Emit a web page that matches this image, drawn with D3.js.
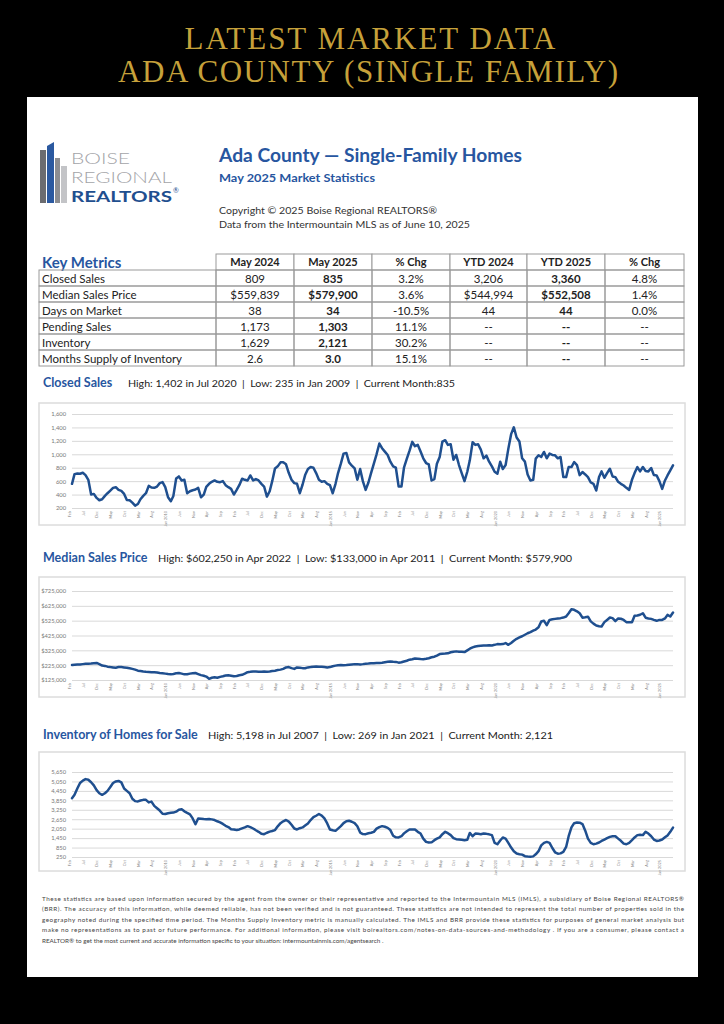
<!DOCTYPE html>
<html>
<head>
<meta charset="utf-8">
<script src="https://cdn.jsdelivr.net/npm/d3@7"></script>
<style>
  body { margin: 0; background: #000; }
  svg { display: block; font-family: Lato, "Open Sans", sans-serif; }
</style>
</head>
<body>
<script>
// months run Feb 2007 .. May 2025, one value per month
const startMonth = new Date(2007, 1, 1)

const closedSales = [
  560,705,715,710,725,690,620,400,410,350,315,
  330,380,420,460,500,510,470,455,410,320,315,280,
  235,260,330,380,420,530,505,500,520,570,585,510,
  360,300,380,640,670,610,620,420,450,465,475,500,
  360,400,515,560,590,610,590,585,600,540,510,485,
  400,470,540,635,620,610,685,610,630,610,560,520,
  370,450,600,790,820,880,880,850,720,620,570,560,
  420,550,690,780,810,800,720,620,590,600,560,540,
  420,560,720,860,1010,1020,880,830,790,620,780,600,
  470,580,720,860,1000,1160,1090,1040,990,890,820,800,
  520,520,800,930,1050,1185,1120,1140,1040,940,870,850,
  610,630,860,960,1190,1210,1140,1150,920,990,840,720,
  600,740,910,1180,1140,1150,1070,940,980,890,820,740,
  710,890,780,840,1080,1300,1402,1250,1190,940,890,700,
  610,620,935,985,960,1035,940,1010,990,985,940,960,
  660,660,810,810,885,840,690,735,700,660,580,560,
  460,660,745,650,720,785,670,660,590,560,535,500,
  470,620,720,810,745,810,750,745,795,690,685,600,
  485,610,685,760,835
]

// median sales price, in $ thousands
const medianPriceK = [
  226,228,230,230,232,234,235,236,238,240,232,
  222,220,215,212,210,208,212,212,210,208,204,200,
  195,188,185,182,180,179,178,177,175,172,170,168,
  165,163,166,170,172,168,163,164,168,170,172,165,
  158,154,148,133,140,143,140,146,150,155,157,154,
  150,152,157,160,168,178,180,183,182,181,180,182,
  180,182,185,188,192,195,200,210,212,205,200,210,
  208,205,204,210,212,215,216,214,215,213,210,212,
  218,222,225,226,225,226,228,230,232,232,230,232,
  235,236,238,238,239,240,242,245,248,250,248,247,
  242,245,250,255,262,265,270,268,266,265,268,272,
  278,282,290,300,302,303,305,312,316,318,316,315,
  313,325,336,345,351,354,356,358,358,360,358,362,
  367,366,367,374,362,375,390,403,412,420,430,440,
  448,458,465,480,519,524,495,530,534,537,540,542,
  546,553,575,602.25,598,588,575,545,548,552,520,505,
  492,488,486,515,530,546,542,522,540,538,530,515,
  515,514,558,560,565,575,545,540,537,530,524,530,
  530,540,564,553,579.9
]

const inventory = [
  3985,4200,4600,4950,5100,5198,5160,5000,4800,4500,4300,
  4200,4300,4450,4700,4950,5050,5080,4990,4600,4450,4300,3950,
  3800,3780,3840,3880,3880,3720,3770,3500,3350,3200,3000,2980,
  3030,3060,3070,3130,3250,3280,3150,3050,2960,2700,2330,2700,
  2680,2660,2650,2660,2640,2600,2520,2450,2350,2230,2150,2020,
  2000,1960,2000,2070,2130,2210,2150,2060,1950,1850,1720,1700,
  1790,1860,1900,1960,2200,2400,2520,2600,2500,2300,2060,2000,
  2080,2130,2250,2380,2600,2780,2870,2980,2880,2700,2380,2000,
  1950,1910,2050,2210,2400,2520,2550,2490,2400,2200,1800,1710,
  1700,1760,1790,1850,2050,2150,2210,2170,2100,1960,1600,1500,
  1490,1570,1750,1890,2000,2000,2000,1850,1740,1420,1210,1170,
  1180,1320,1420,1500,1700,1850,1760,1640,1450,1380,1360,1340,
  1320,1340,1780,1570,1740,1720,1700,1740,1720,1690,1640,1150,
  1060,1300,1490,1420,1150,850,610,470,430,400,300,280,
  269,290,420,620,990,1150,1210,1150,820,550,460,480,
  570,890,1570,2130,2400,2440,2430,2340,1920,1420,1150,1060,
  1100,1170,1270,1360,1450,1530,1570,1570,1420,1280,1100,1060,
  1150,1320,1490,1640,1660,1640,1850,1740,1570,1360,1270,1300,
  1360,1500,1620,1850,2121
]

const closedTicks = [200,400,600,800,1000,1200,1400,1600]
const priceTicks = [125000,225000,325000,425000,525000,625000,725000]
const inventoryTicks = [250,850,1450,2050,2650,3250,3850,4450,5050,5650]

// key metrics table
const metricNames = ['Closed Sales','Median Sales Price','Days on Market','Pending Sales','Inventory','Months Supply of Inventory']
const tableHeads = ['May 2024','May 2025','% Chg','YTD 2024','YTD 2025','% Chg']
const may2024 = ['809','$559,839','38','1,173','1,629','2.6']
const may2025 = ['835','$579,900','34','1,303','2,121','3.0']
const chgMonth = ['3.2%','3.6%','-10.5%','11.1%','30.2%','15.1%']
const ytd2024 = ['3,206','$544,994','44','--','--','--']
const ytd2025 = ['3,360','$552,508','44','--','--','--']
const chgYtd = ['4.8%','1.4%','0.0%','--','--','--']

const footerLines = [
  'These statistics are based upon information secured by the agent from the owner or their representative and reported to the Intermountain MLS (IMLS), a subsidiary of Boise Regional REALTORS®',
  '(BRR). The accuracy of this information, while deemed reliable, has not been verified and is not guaranteed. These statistics are not intended to represent the total number of properties sold in the',
  'geography noted during the specified time period. The Months Supply Inventory metric is manually calculated. The IMLS and BRR provide these statistics for purposes of general market analysis but',
  'make no representations as to past or future performance. For additional information, please visit boirealtors.com/notes-on-data-sources-and-methodology . If you are a consumer, please contact a',
  'REALTOR® to get the most current and accurate information specific to your situation: intermountainmls.com/agentsearch .'
]

const blue = '#2756a0'
const lineBlue = '#1f4f8f'
const gold = '#c6a13a'
const sep = '\u00a0\u00a0|\u00a0\u00a0'

const svg = d3.select('body').append('svg')
  .attr('width', 724).attr('height', 1024)

svg.append('rect').attr('width', 724).attr('height', 1024).attr('fill', '#000')

// gold heading
svg.append('text').text('LATEST MARKET DATA')
  .attr('x', 370).attr('y', 49).attr('text-anchor', 'middle')
  .attr('font-family', '"Liberation Serif", "DejaVu Serif", serif')
  .attr('font-size', 31).attr('fill', gold)
  .attr('textLength', 371).attr('lengthAdjust', 'spacing')
svg.append('text').text('ADA COUNTY (SINGLE FAMILY)')
  .attr('x', 368).attr('y', 82).attr('text-anchor', 'middle')
  .attr('font-family', '"Liberation Serif", "DejaVu Serif", serif')
  .attr('font-size', 31).attr('fill', gold)
  .attr('textLength', 500).attr('lengthAdjust', 'spacing')

// white sheet
svg.append('rect').attr('x', 27).attr('y', 97).attr('width', 671).attr('height', 880).attr('fill', '#fff')

// logo
const logo = svg.append('g')
logo.append('rect').attr('x', 40).attr('y', 150).attr('width', 6).attr('height', 53).attr('fill', '#6b6c70')
logo.append('path').attr('d', 'M47,146 L54,142 L54,203 L47,203 Z').attr('fill', '#2b59a0')
logo.append('rect').attr('x', 55).attr('y', 158).attr('width', 5).attr('height', 45).attr('fill', '#8d8e92')
logo.append('rect').attr('x', 61).attr('y', 166).attr('width', 6).attr('height', 37).attr('fill', '#c3c4c7')
logo.append('text').text('BOISE').attr('x', 71).attr('y', 164)
  .attr('font-size', 15.5).attr('font-weight', 300).attr('fill', '#a3a4a8')
  .attr('textLength', 59).attr('lengthAdjust', 'spacingAndGlyphs')
logo.append('text').text('REGIONAL').attr('x', 71).attr('y', 183)
  .attr('font-size', 15.5).attr('font-weight', 300).attr('fill', '#a3a4a8')
  .attr('textLength', 101).attr('lengthAdjust', 'spacingAndGlyphs')
logo.append('text').text('REALTORS').attr('x', 71).attr('y', 202)
  .attr('font-size', 15.5).attr('font-weight', 700).attr('fill', '#1f4f8f')
  .attr('textLength', 101).attr('lengthAdjust', 'spacingAndGlyphs')
logo.append('text').text('®').attr('x', 173).attr('y', 193)
  .attr('font-size', 7).attr('fill', '#1f4f8f')

// header texts
svg.append('text').text('Ada County — Single-Family Homes').attr('x', 219).attr('y', 162)
  .attr('font-size', 18.5).attr('font-weight', 700).attr('fill', blue)
  .attr('textLength', 303).attr('lengthAdjust', 'spacingAndGlyphs')
svg.append('text').text('May 2025 Market Statistics').attr('x', 219).attr('y', 182)
  .attr('font-size', 12).attr('font-weight', 700).attr('fill', blue)
  .attr('textLength', 156).attr('lengthAdjust', 'spacingAndGlyphs')
svg.append('text').text('Copyright © 2025 Boise Regional REALTORS®').attr('x', 219).attr('y', 214)
  .attr('font-size', 10).attr('fill', '#333')
  .attr('textLength', 218).attr('lengthAdjust', 'spacingAndGlyphs')
svg.append('text').text('Data from the Intermountain MLS as of June 10, 2025').attr('x', 219).attr('y', 228)
  .attr('font-size', 10).attr('fill', '#333')
  .attr('textLength', 251).attr('lengthAdjust', 'spacingAndGlyphs')

// key metrics table
const colEdges = [39, 216, 294, 372, 450, 527, 605, 684]
const headTop = 254, rowTop = 270, rowH = 16
const tbl = svg.append('g')
tbl.append('text').text('Key Metrics').attr('x', 42).attr('y', 268)
  .attr('font-size', 15).attr('font-weight', 700).attr('fill', blue)

const tableCols = [may2024, may2025, chgMonth, ytd2024, ytd2025, chgYtd]
tbl.selectAll('rect.head').data(tableHeads).join('rect')
  .attr('x', (d, i) => colEdges[i + 1]).attr('y', headTop)
  .attr('width', (d, i) => colEdges[i + 2] - colEdges[i + 1]).attr('height', rowTop - headTop)
  .attr('fill', '#fff').attr('stroke', '#9a9a9a')
tbl.selectAll('text.head').data(tableHeads).join('text')
  .attr('x', (d, i) => (colEdges[i + 1] + colEdges[i + 2]) / 2).attr('y', headTop + 12)
  .attr('text-anchor', 'middle').attr('font-size', 11).attr('font-weight', 700).attr('fill', '#222')
  .text(d => d)

metricNames.forEach(function (name, r) {
  const y0 = rowTop + r * rowH
  for (let c = 0; c < 7; c++) {
    tbl.append('rect').attr('x', colEdges[c]).attr('y', y0)
      .attr('width', colEdges[c + 1] - colEdges[c]).attr('height', rowH)
      .attr('fill', 'none').attr('stroke', '#9a9a9a')
  }
  tbl.append('text').text(name).attr('x', 42).attr('y', y0 + 12.5)
    .attr('font-size', 11.5).attr('fill', '#222')
  tableCols.forEach(function (col, c) {
    tbl.append('text').text(col[r])
      .attr('x', (colEdges[c + 1] + colEdges[c + 2]) / 2).attr('y', y0 + 12.5)
      .attr('text-anchor', 'middle').attr('font-size', 11.5)
      .attr('font-weight', (c == 1 || c == 4) ? 700 : 400).attr('fill', '#222')
  })
})

// shared time scale
const monthList = closedSales.map((v, i) => d3.timeMonth.offset(startMonth, i))
const x = d3.scaleTime()
  .domain([monthList[0], monthList[monthList.length - 1]])
  .range([72, 673])
const tickMonths = monthList.filter((d, i) => i % 5 == 0)
const monthFmt = d3.timeFormat('%b')
const monthYearFmt = d3.timeFormat('%b %Y')

function draw_chart(opt) {
  const g = svg.append('g')
  g.append('text').text(opt.title).attr('x', 43).attr('y', opt.titleY)
    .attr('font-size', 12.5).attr('font-weight', 700).attr('fill', blue)
  g.append('text').text(opt.subtitle).attr('x', opt.subX).attr('y', opt.titleY)
    .attr('font-size', 10).attr('fill', '#222')
    .attr('textLength', opt.subLen).attr('lengthAdjust', 'spacingAndGlyphs')

  g.append('rect').attr('x', 39).attr('y', opt.boxTop).attr('width', 646)
    .attr('height', opt.boxBottom - opt.boxTop)
    .attr('fill', '#fff').attr('stroke', '#dcdcdc').attr('stroke-width', 1.5)

  const y = d3.scaleLinear().domain(opt.domain).range([opt.yBottom, opt.yTop])

  const yAxis = g.append('g').attr('transform', 'translate(72,0)')
    .call(d3.axisLeft(y).tickValues(opt.ticks).tickFormat(opt.fmt)
      .tickSize(-(673 - 72)).tickPadding(6))
  yAxis.select('.domain').remove()
  yAxis.selectAll('line').attr('stroke', '#d9d9d9')
  yAxis.selectAll('text').attr('font-size', 5.8).attr('fill', '#777')
    .attr('font-family', 'Lato, sans-serif')

  const xAxis = g.append('g').attr('transform', 'translate(0,' + (opt.yBottom + 2) + ')')
    .call(d3.axisBottom(x).tickValues(tickMonths).tickSize(0)
      .tickFormat(d => d.getMonth() == 0 ? monthYearFmt(d) : monthFmt(d)))
  xAxis.select('.domain').remove()
  xAxis.selectAll('text')
    .attr('transform', 'rotate(-90)').attr('text-anchor', 'end')
    .attr('dx', '-0.3em').attr('dy', '-0.35em').attr('y', 0).attr('x', 0)
    .attr('font-size', 3.8).attr('fill', '#888').attr('font-family', 'Lato, sans-serif')

  const line = d3.line()
    .x((d, i) => x(monthList[i]))
    .y(d => y(d * opt.mult))
  g.append('path').datum(opt.values).attr('d', line)
    .attr('fill', 'none').attr('stroke', lineBlue).attr('stroke-width', 2.5)
    .attr('stroke-linejoin', 'round').attr('stroke-linecap', 'round')
}

draw_chart({
  title: 'Closed Sales', titleY: 387, subX: 128, subLen: 327,
  subtitle: 'High: 1,402 in Jul 2020' + sep + 'Low: 235 in Jan 2009' + sep + 'Current Month:835',
  boxTop: 403, boxBottom: 525, yTop: 414, yBottom: 508,
  domain: [200, 1600], ticks: closedTicks, fmt: d3.format(','),
  values: closedSales, mult: 1
})

draw_chart({
  title: 'Median Sales Price', titleY: 562, subX: 158, subLen: 414,
  subtitle: 'High: $602,250 in Apr 2022' + sep + 'Low: $133,000 in Apr 2011' + sep + 'Current Month: $579,900',
  boxTop: 577, boxBottom: 697, yTop: 591, yBottom: 680,
  domain: [125000, 725000], ticks: priceTicks, fmt: d3.format('$,'),
  values: medianPriceK, mult: 1000
})

draw_chart({
  title: 'Inventory of Homes for Sale', titleY: 739, subX: 208, subLen: 345,
  subtitle: 'High: 5,198 in Jul 2007' + sep + 'Low: 269 in Jan 2021' + sep + 'Current Month: 2,121',
  boxTop: 752, boxBottom: 871, yTop: 772, yBottom: 857,
  domain: [250, 5650], ticks: inventoryTicks, fmt: d3.format(','),
  values: inventory, mult: 1
})

// disclaimer
svg.append('g').selectAll('text').data(footerLines).join('text')
  .attr('x', 42).attr('y', (d, i) => 901 + i * 10.4)
  .attr('font-size', 6.3).attr('fill', '#444')
  .each(function (d, i) {
    if (i < footerLines.length - 1) {
      d3.select(this).attr('textLength', 642).attr('lengthAdjust', 'spacing')
    }
  })
  .text(d => d)
</script>
</body>
</html>
